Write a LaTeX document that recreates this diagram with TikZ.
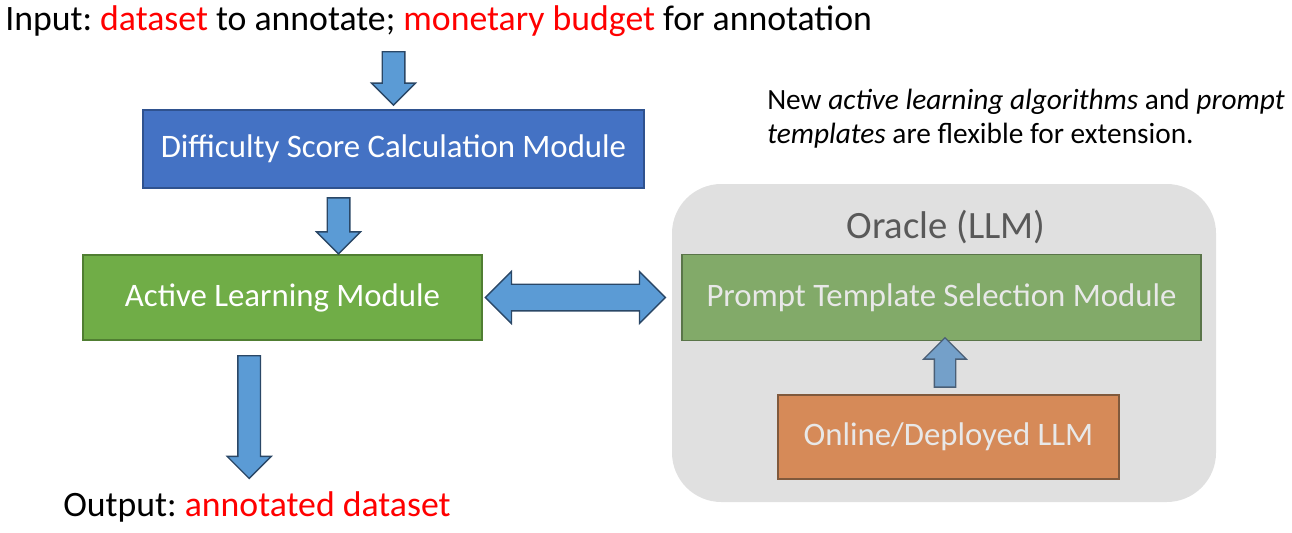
\documentclass[tikz,border=0pt]{standalone}
\usepackage{fontspec}
\setmainfont{Carlito}
\usepackage{xcolor}
\usepackage{tikz}
\usetikzlibrary{shapes.arrows,positioning}
\frenchspacing
\definecolor{dscfill}{HTML}{4472C4}
\definecolor{dscline}{HTML}{2F528F}
\definecolor{almfill}{HTML}{70AD47}
\definecolor{almline}{HTML}{507E32}
\definecolor{ptsfill}{HTML}{82AA69}
\definecolor{ptsline}{HTML}{5A7549}
\definecolor{oldfill}{HTML}{D68A58}
\definecolor{oldline}{HTML}{80593C}
\definecolor{oraclegray}{HTML}{E0E0E0}
\definecolor{oracletext}{HTML}{595959}
\definecolor{paletext}{HTML}{E8E8E8}
\definecolor{arrowblue}{HTML}{5B9BD5}
\definecolor{arrowline}{HTML}{2A4766}
\definecolor{uparrowblue}{HTML}{74A0C9}
\definecolor{uparrowline}{HTML}{4A5F76}
\tikzstyle{module} = [rectangle, line width=1.3pt, text centered, inner sep=0pt, font=\fontsize{24.6}{28}\selectfont]
\tikzstyle{plain} = [inner sep=0pt, font=\fontsize{26.8}{30}\selectfont]
\tikzstyle{fatarrow} = [single arrow, draw=arrowline, fill=arrowblue, line width=1pt, inner sep=8pt, single arrow head extend=8pt]
\tikzstyle{dblarrow} = [double arrow, draw=arrowline, fill=arrowblue, line width=1pt, inner sep=9.5pt, double arrow head extend=9.5pt]

\begin{document}
\begin{tikzpicture}[x=0.75pt, y=-0.75pt]
		\useasboundingbox (0,0) rectangle (1292,532);
		\coordinate (dsc) at (393.5,149);
		\coordinate (alm) at (282.5,297.5);
		\coordinate (pts) at (941.5,297.5);
		\coordinate (old) at (948.5,437);
		\coordinate (oracle) at (944,343);
		% Input and output
		\node[plain, anchor=base west] (input) at (5,30) {Input: \textcolor{red}{dataset} to annotate; \textcolor{red}{monetary budget} for annotation};
		\node[plain, anchor=base west] (output) at (63,516) {Output: \textcolor{red}{annotated dataset}};
		\node[anchor=base west, inner sep=0pt, align=left, font=\fontsize{22}{25}\selectfont] (note) at (767,143) {New \textit{active learning algorithms} and \textit{prompt}\\\textit{templates} are flexible for extension.};
		% Oracle
		\node[name=oracle, fill=oraclegray, rounded corners=37pt, minimum width=408pt, minimum height=238.5pt] at (oracle) {};
		\node[anchor=base, inner sep=0pt, text=oracletext, font=\fontsize{29}{33}\selectfont] (oracletitle) at (946,238) {Oracle (LLM)};
		% Modules
		\node[module, name=dsc, draw=dscline, fill=dscfill, text=white, minimum width=375.75pt, minimum height=58.5pt] at (dsc) {Difficulty Score Calculation Module};
		\node[module, name=alm, draw=almline, fill=almfill, text=white, minimum width=299.25pt, minimum height=63.75pt] at (alm) {Active Learning Module};
		\node[module, name=pts, draw=ptsline, fill=ptsfill, text=paletext, minimum width=389pt, minimum height=64.5pt] at (pts) {Prompt Template Selection Module};
		\node[module, name=old, draw=oldline, fill=oldfill, text=paletext, minimum width=256pt, minimum height=63pt] at (old) {Online/Deployed LLM};
		% Block arrows
		\path (input.south -| dsc.north) -- (dsc.north) node[pos=0.5, fatarrow, rotate=-90, minimum height=40pt] (a1) {};
		\path ([xshift=42pt]dsc.south -| alm.north) -- ([xshift=42pt]alm.north) node[pos=0.48, fatarrow, rotate=-90, minimum height=42pt] (a2) {};
		\path (alm.south) -- (alm.south |- output.north) node[pos=0.47, xshift=-25pt, fatarrow, rotate=-90, minimum height=92pt] (a3) {};
		\path (alm.east) -- (pts.west) node[midway, xshift=-5pt, dblarrow, minimum height=135pt] (a4) {};
		\path (old.north) -- (pts.south) node[midway, fatarrow, inner sep=7.5pt, draw=uparrowline, fill=uparrowblue, rotate=90, minimum height=37pt] (a5) {};
\end{tikzpicture}
\end{document}
